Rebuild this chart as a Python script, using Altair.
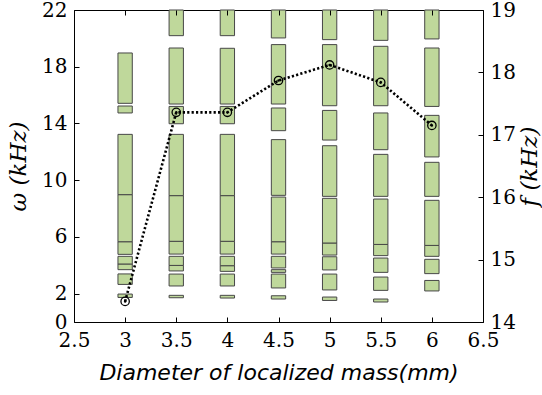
import altair as alt
import pandas as pd

# Band gaps (lower edge, upper edge) in kHz for each localized-mass diameter (mm)
diameters = [3.0, 3.5, 4.0, 4.5, 5.0, 5.5, 6.0]

bands_3_0 = [(1.73, 1.97), (2.65, 3.39), (3.69, 4.09), (4.09, 4.63), (4.77, 5.66),
             (5.66, 8.98), (8.98, 13.23), (14.74, 15.23), (15.42, 18.97)]
bands_3_5 = [(1.71, 1.88), (2.54, 3.38), (3.60, 3.99), (3.99, 4.63), (4.79, 5.69),
             (5.69, 8.91), (8.91, 13.23), (13.98, 15.20), (15.37, 19.32), (20.19, 22.0)]
bands_4_0 = [(1.69, 1.88), (2.54, 3.38), (3.57, 3.97), (3.97, 4.63), (4.79, 5.69),
             (5.69, 8.91), (8.91, 13.23), (13.98, 15.20), (15.37, 19.30), (20.19, 22.0)]
bands_4_5 = [(1.62, 1.85), (2.40, 3.38), (3.50, 3.69), (3.81, 4.63), (4.79, 5.66),
             (5.66, 8.81), (8.93, 12.86), (13.49, 15.09), (15.37, 19.56), (20.03, 22.0)]
bands_5_0 = [(1.52, 1.76), (2.26, 3.38), (3.67, 4.60), (4.72, 5.57), (5.57, 8.72),
             (8.86, 12.43), (12.83, 14.92), (15.25, 19.56), (19.91, 22.0)]
bands_5_5 = [(1.41, 1.62), (2.23, 3.17), (3.50, 4.51), (4.68, 5.47), (5.47, 8.67),
             (8.86, 11.82), (12.15, 14.74), (15.25, 19.44), (19.86, 22.0)]
bands_6_0 = [(2.19, 2.93), (3.41, 4.42), (4.63, 5.40), (5.40, 8.58), (8.86, 11.26),
             (11.64, 14.57), (15.20, 19.32), (19.96, 22.0)]

all_bands = [bands_3_0, bands_3_5, bands_4_0, bands_4_5, bands_5_0, bands_5_5, bands_6_0]

# Frequency f (kHz) for each diameter, plotted against the right axis
freq_f = [14.33, 17.36, 17.36, 17.87, 18.12, 17.84, 17.15]

x_ticks = [2.5, 3, 3.5, 4, 4.5, 5, 5.5, 6, 6.5]
omega_ticks = [0, 2, 6, 10, 14, 18, 22]
f_ticks = [14, 15, 16, 17, 18, 19]

bar_half_width = 0.07

rows = []
for d, bands in zip(diameters, all_bands):
    for lo, hi in bands:
        rows.append({"d": d, "lo": lo, "hi": hi})
bands_df = pd.DataFrame(rows)
line_df = pd.DataFrame({"d": diameters, "f": freq_f})

num_font = "DejaVu Serif"
num_size = 20
x_scale = alt.Scale(domain=[2.5, 6.5], nice=False, zero=False)

# Inward ticks: axes are pulled inside the frame by the tick length
common_axis = dict(
    offset=-5, tickSize=5, domain=False, tickColor="black", tickWidth=1,
    labelFont=num_font, labelFontSize=num_size, labelColor="black",
    labelFlush=False, labelOverlap=False, grid=False, zindex=2,
    titleColor="black", titleFontWeight="normal",
)

bars = alt.Chart(bands_df).transform_calculate(
    x0=f"datum.d - {bar_half_width}", x1=f"datum.d + {bar_half_width}"
).mark_rect(fill="#bfd89b", stroke="#474747", strokeWidth=1).encode(
    x=alt.X("x0:Q", scale=x_scale,
            axis=alt.Axis(orient="bottom", values=x_ticks, format="~g",
                          labelPadding=8, title="Diameter of localized mass(mm)",
                          titleFont="DejaVu Sans", titleFontStyle="italic",
                          titleFontSize=22, titlePadding=12, **common_axis)),
    x2="x1:Q",
    y=alt.Y("lo:Q", scale=alt.Scale(domain=[0, 22], nice=False),
            axis=alt.Axis(orient="left", values=omega_ticks, labelPadding=7,
                          title="ω (kHz)", titleFont=num_font, titleFontStyle="italic",
                          titleFontSize=23, titlePadding=11, **common_axis)),
    y2="hi:Q",
)

base = alt.Chart(line_df).encode(
    x=alt.X("d:Q", scale=x_scale,
            axis=alt.Axis(orient="top", values=x_ticks, labels=False, title=None,
                          **common_axis)),
    y=alt.Y("f:Q", scale=alt.Scale(domain=[14, 19], nice=False, zero=False),
            axis=alt.Axis(orient="right", values=f_ticks, labelPadding=7,
                          title="f (kHz)", titleFont=num_font, titleFontStyle="italic",
                          titleFontSize=23, titlePadding=3, titleAngle=270,
                          titleBaseline="top", **common_axis)),
)

line = base.mark_line(color="black", strokeWidth=2.6, strokeDash=[2.2, 2.2], strokeCap="butt")
rings = base.mark_point(shape="circle", filled=False, size=70, color="black",
                        strokeWidth=1.3, opacity=1)
dots = base.mark_point(shape="circle", filled=True, size=6, color="black", opacity=1)

chart = alt.layer(bars, alt.layer(line, rings, dots)).resolve_scale(
    y="independent"
).resolve_axis(
    x="independent", y="independent"
).properties(
    width=409, height=312,
    autosize=alt.AutoSizeParams(type="none"),
    padding={"left": 74, "top": 10, "right": 59, "bottom": 73},
    background="white",
).configure_view(stroke="black", strokeWidth=1)

chart.save("out.html", embed_options={"renderer": "svg", "actions": False})
